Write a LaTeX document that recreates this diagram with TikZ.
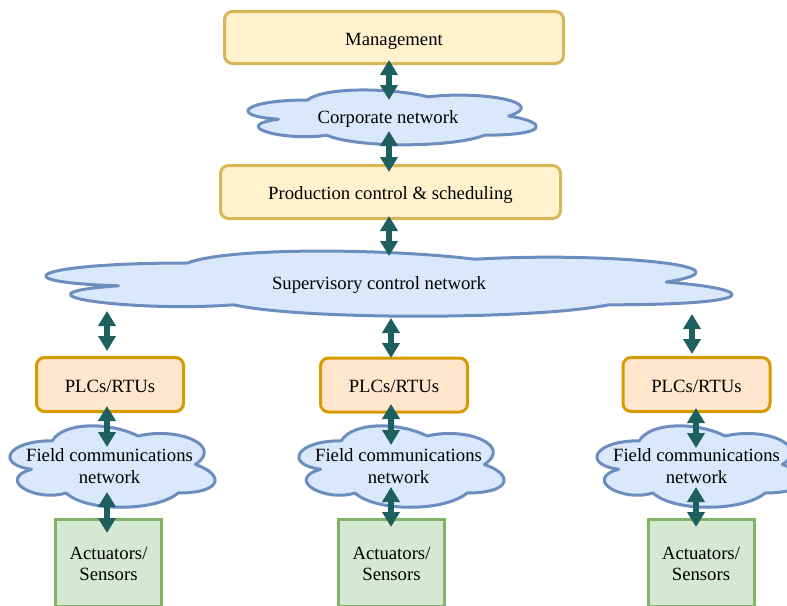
\documentclass[tikz,border=0pt]{standalone}
\usepackage{fontspec}
\setmainfont{Liberation Serif}
\usetikzlibrary{arrows.meta,calc}
\pgfdeclarelayer{bg}
\pgfsetlayers{bg,main}

\definecolor{yfill}{HTML}{FFF2CC}
\definecolor{yline}{HTML}{D6B656}
\definecolor{ofill}{HTML}{FFE6CC}
\definecolor{oline}{HTML}{D79B00}
\definecolor{gfill}{HTML}{D5E8D4}
\definecolor{gline}{HTML}{82B366}
\definecolor{bfill}{HTML}{DAE8FC}
\definecolor{bline}{HTML}{6C8EBF}
\definecolor{arrowc}{HTML}{1E6060}

\tikzset{
  lbl/.style={font=\fontsize{18.7}{21.6}\selectfont, align=center, inner sep=0pt, outer sep=0pt},
  oneline/.style={text height=19.6pt, text depth=4pt},
  ybox/.style={lbl, oneline, draw=yline, fill=yfill, line width=3pt, rounded corners=8pt},
  obox/.style={lbl, oneline, draw=oline, fill=ofill, line width=3pt, rounded corners=8pt, minimum width=147pt, minimum height=54pt},
  gbox/.style={lbl, text height=35.4pt, text depth=0pt, draw=gline, fill=gfill, line width=3pt, minimum width=106pt, minimum height=87pt},
  cloudarea/.style={lbl},
  fieldarea/.style={lbl, text height=37.6pt, text depth=0pt, minimum width=229pt, minimum height=95pt},
  cloudline/.style={draw=bline, fill=bfill, line width=3pt, line join=round},
  biarrow/.style={draw=arrowc, line width=6pt,
    {Triangle[width=17pt,length=15pt]}-{Triangle[width=17pt,length=15pt]}}
}

% cloud outline filling the box of a node: name, width, height
\newcommand\cloudfor[3]{%
  \begin{pgfonlayer}{bg}
  \begin{scope}[shift={(#1.north west)}, x=#2pt, y=-#3pt]
    \path[cloudline] (0.25,0.25)
      .. controls (0.05,0.25) and (0,0.5) .. (0.16,0.55)
      .. controls (0,0.66) and (0.18,0.9) .. (0.31,0.8)
      .. controls (0.4,1) and (0.7,1) .. (0.8,0.8)
      .. controls (1,0.8) and (1,0.6) .. (0.875,0.5)
      .. controls (1,0.3) and (0.8,0.1) .. (0.625,0.2)
      .. controls (0.5,0.05) and (0.3,0.05) .. (0.25,0.25) -- cycle;
  \end{scope}
  \end{pgfonlayer}}

\begin{document}
\begin{tikzpicture}[x=1pt, y=-1pt]
\useasboundingbox (0,0) rectangle (787,605);

% upper levels
\node[ybox, minimum width=339pt, minimum height=52pt] (mgmt) at (394,37.5) {Management};
\node[cloudarea, oneline, minimum width=322pt, minimum height=64pt] (corp) at (388,116) {Corporate network};
\cloudfor{corp}{322}{64}
\node[ybox, minimum width=340pt, minimum height=53pt] (prod) at (390.5,192) {Production control \& scheduling};
\node[cloudarea, oneline, minimum width=766pt, minimum height=76pt] (sup) at (379,282) {Supervisory control network};
\cloudfor{sup}{766}{76}

% controllers
\node[obox] (plc1) at (110,384.5) {PLCs/RTUs};
\node[obox] (plc2) at (394,385) {PLCs/RTUs};
\node[obox] (plc3) at (696.5,384.5) {PLCs/RTUs};

% field networks
\node[fieldarea] (f1) at (109.5,464.5) {Field communications\\network};
\node[fieldarea] (f2) at (398.5,464.5) {Field communications\\network};
\node[fieldarea] (f3) at (696.5,464.5) {Field communications\\network};
\cloudfor{f1}{229}{95}
\cloudfor{f2}{229}{95}
\cloudfor{f3}{229}{95}

% field devices
\node[gbox] (act1) at (108.5,563) {Actuators/\\Sensors};
\node[gbox] (act2) at (391.5,563) {Actuators/\\Sensors};
\node[gbox] (act3) at (701,563) {Actuators/\\Sensors};

% links
\draw[biarrow] ($(mgmt.south)+(-5,-3.5)$) -- ($(corp.north)+(1,16)$);
\draw[biarrow] ($(corp.south)+(1,-17)$) -- ($(prod.north)+(-1.5,6.5)$);
\draw[biarrow] ($(prod.south)+(-1.5,-2.5)$) -- ($(sup.north)+(10,12)$);
\draw[biarrow] ($(sup.south -| plc1.north)+(-3,-9)$) -- ($(plc1.north)+(-3,-6.5)$);
\draw[biarrow] ($(sup.south -| plc2.north)+(-3,-2)$) -- ($(plc2.north)+(-3,0)$);
\draw[biarrow] ($(sup.south -| plc3.north)+(-4.5,-6)$) -- ($(plc3.north)+(-4.5,-3.5)$);
\draw[biarrow] ($(plc1.south)+(-3,-5.5)$) -- ($(f1.north)+(-2.5,30)$);
\draw[biarrow] ($(f1.south)+(-2.5,-20)$) -- ($(act1.north)+(-1.5,13.5)$);
\draw[biarrow] ($(plc2.south)+(-3,-8)$) -- ($(f2.north)+(-7.5,28)$);
\draw[biarrow] ($(f2.south)+(-7.5,-25)$) -- ($(act2.north)+(-0.5,7.5)$);
\draw[biarrow] ($(plc3.south)+(-0.5,-3.5)$) -- ($(f3.north)+(-0.5,31)$);
\draw[biarrow] ($(f3.south)+(-0.5,-25)$) -- ($(act3.north)+(-5,7.5)$);
\end{tikzpicture}
\end{document}
